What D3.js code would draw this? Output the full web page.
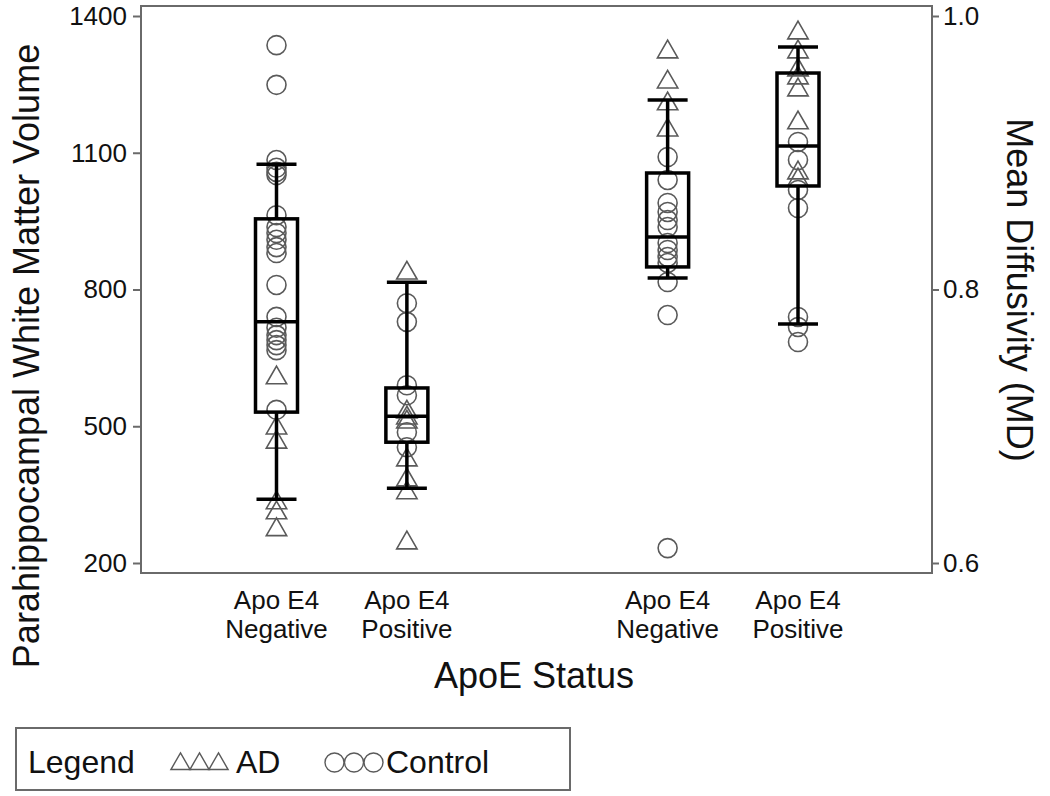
<!DOCTYPE html>
<html>
<head>
<meta charset="utf-8">
<script src="https://cdn.jsdelivr.net/npm/d3@7"></script>
<style>
  body { margin: 0; background: #fff; }
  text { font-family: "Liberation Sans", Arial, sans-serif; fill: #111; }
</style>
</head>
<body>
<script>
'use strict';

// group labels and positions on the x axis (gap between the two measures)
const groupTop = ['Apo E4', 'Apo E4', 'Apo E4', 'Apo E4'];
const groupBottom = ['Negative', 'Positive', 'Negative', 'Positive'];
const groupPos = [1, 2, 4, 5];
const groupAxis = ['left', 'left', 'right', 'right'];

// box statistics per group (left two = volume, right two = MD)
const whiskerLow = [340, 364, 0.8084, 0.7748];
const q1 = [531, 465, 0.8165, 0.8757];
const median = [729, 522, 0.8384, 0.9049];
const q3 = [955, 584, 0.8852, 0.9583];
const whiskerHigh = [1075, 816, 0.9386, 0.9773];

// individual subjects
const volNegAD = [606, 496, 465, 332, 310, 273];
const volNegControl = [1336, 1249, 1084, 1067, 1058, 1051, 963, 937, 924, 909, 893, 880,
  810, 740, 716, 700, 689, 678, 667, 536];
const volPosAD = [836, 531, 518, 509, 426, 382, 354, 244];
const volPosControl = [770, 729, 590, 568, 487, 454];
const mdNegAD = [0.9737, 0.9517, 0.9357, 0.9166];
const mdNegControl = [0.8969, 0.8801, 0.8633, 0.8567, 0.8508, 0.8457, 0.834, 0.8289,
  0.8238, 0.8194, 0.8055, 0.7813, 0.6109];
const mdPosAD = [0.9876, 0.9737, 0.9605, 0.9547, 0.9459, 0.9218, 0.8852, 0.8801];
const mdPosControl = [0.9079, 0.8947, 0.8728, 0.8596, 0.7799, 0.7726, 0.7616];

// tick values
const leftTicks = [200, 500, 800, 1100, 1400];
const rightTicks = [0.6, 0.8, 1.0];

(function() {

  const svg = d3.select('body')
    .append('svg')
    .attr('width', 1050)
    .attr('height', 796);

  // frame of the plot area
  const frame = { left: 141, right: 932, top: 6, bottom: 573 };

  // scales
  const x = d3.scaleLinear().domain([1, 5]).range([276.5, 798]);
  const yLeft = d3.scaleLinear().domain([200, 1400]).range([563, 16]);
  const yRight = d3.scaleLinear().domain([0.6, 1.0]).range([563, 16]);
  const yFor = (i) => groupAxis[i] === 'left' ? yLeft : yRight;

  svg.append('rect')
    .attr('x', frame.left)
    .attr('y', frame.top)
    .attr('width', frame.right - frame.left)
    .attr('height', frame.bottom - frame.top)
    .attr('fill', 'none')
    .attr('stroke', '#6a6a6a')
    .attr('stroke-width', 2);

  // left axis
  const leftAxis = svg.append('g')
    .attr('transform', `translate(${frame.left}, 0)`)
    .call(d3.axisLeft(yLeft).tickValues(leftTicks).tickFormat(d3.format('d'))
      .tickSize(8).tickPadding(6));
  // right axis
  const rightAxis = svg.append('g')
    .attr('transform', `translate(${frame.right}, 0)`)
    .call(d3.axisRight(yRight).tickValues(rightTicks).tickFormat(d3.format('.1f'))
      .tickSize(7).tickPadding(4));

  [leftAxis, rightAxis].forEach(g => {
    g.select('.domain').remove();
    g.selectAll('.tick line').attr('stroke', '#6a6a6a').attr('stroke-width', 2);
    g.selectAll('.tick text')
      .style('font-size', '26px')
      .style('font-family', '"Liberation Sans", Arial, sans-serif')
      .attr('fill', '#111');
  });

  // points: triangles for AD, circles for controls
  const pointSets = [
    { i: 0, vals: volNegControl, shape: 'circle' },
    { i: 0, vals: volNegAD, shape: 'triangle' },
    { i: 1, vals: volPosControl, shape: 'circle' },
    { i: 1, vals: volPosAD, shape: 'triangle' },
    { i: 2, vals: mdNegControl, shape: 'circle' },
    { i: 2, vals: mdNegAD, shape: 'triangle' },
    { i: 3, vals: mdPosControl, shape: 'circle' },
    { i: 3, vals: mdPosAD, shape: 'triangle' }
  ];

  const tri = d3.symbol(d3.symbolTriangle, 180);
  const pts = svg.append('g')
    .attr('fill', 'none')
    .attr('stroke', '#5a5a5a')
    .attr('stroke-width', 1.6);

  pointSets.forEach(set => {
    const cx = x(groupPos[set.i]);
    const y = yFor(set.i);
    if (set.shape === 'circle') {
      pts.selectAll(null)
        .data(set.vals)
        .enter()
        .append('circle')
        .attr('cx', cx)
        .attr('cy', d => y(d))
        .attr('r', 9.5);
    } else {
      pts.selectAll(null)
        .data(set.vals)
        .enter()
        .append('path')
        .attr('d', tri)
        .attr('transform', d => `translate(${cx}, ${y(d)})`);
    }
  });

  // box plots
  const halfBox = 21;
  const halfCap = 20;
  groupPos.forEach((p, i) => {
    const cx = x(p);
    const y = yFor(i);
    const g = svg.append('g')
      .attr('stroke', '#000')
      .attr('stroke-width', 3.5)
      .attr('fill', 'none');
    // whiskers
    g.append('line')
      .attr('x1', cx).attr('x2', cx)
      .attr('y1', y(whiskerHigh[i])).attr('y2', y(q3[i]));
    g.append('line')
      .attr('x1', cx).attr('x2', cx)
      .attr('y1', y(q1[i])).attr('y2', y(whiskerLow[i]));
    // caps
    [whiskerHigh[i], whiskerLow[i]].forEach(v => {
      g.append('line')
        .attr('x1', cx - halfCap).attr('x2', cx + halfCap)
        .attr('y1', y(v)).attr('y2', y(v));
    });
    // box and median
    g.append('rect')
      .attr('x', cx - halfBox)
      .attr('y', y(q3[i]))
      .attr('width', halfBox * 2)
      .attr('height', y(q1[i]) - y(q3[i]));
    g.append('line')
      .attr('x1', cx - halfBox).attr('x2', cx + halfBox)
      .attr('y1', y(median[i])).attr('y2', y(median[i]));
  });

  // category labels
  groupPos.forEach((p, i) => {
    const t = svg.append('text')
      .attr('x', x(p))
      .attr('text-anchor', 'middle')
      .style('font-size', '26px');
    t.append('tspan').attr('x', x(p)).attr('y', 609).text(groupTop[i]);
    t.append('tspan').attr('x', x(p)).attr('y', 638).text(groupBottom[i]);
  });

  // axis titles
  svg.append('text')
    .attr('x', 534)
    .attr('y', 688)
    .attr('text-anchor', 'middle')
    .style('font-size', '36px')
    .text('ApoE Status');

  svg.append('text')
    .attr('transform', 'translate(39, 356)rotate(-90)')
    .attr('text-anchor', 'middle')
    .style('font-size', '36px')
    .text('Parahippocampal White Matter Volume');

  svg.append('text')
    .attr('transform', 'translate(1007, 290)rotate(90)')
    .attr('text-anchor', 'middle')
    .style('font-size', '36px')
    .text('Mean Diffusivity (MD)');

  // legend
  const legend = svg.append('g');
  legend.append('rect')
    .attr('x', 16).attr('y', 728)
    .attr('width', 554).attr('height', 62)
    .attr('fill', 'none')
    .attr('stroke', '#6a6a6a')
    .attr('stroke-width', 2);
  legend.append('text')
    .attr('x', 28).attr('y', 773)
    .style('font-size', '32px')
    .text('Legend');

  const smallTri = d3.symbol(d3.symbolTriangle, 160);
  [180.5, 199.5, 218.5].forEach(lx => {
    legend.append('path')
      .attr('d', smallTri)
      .attr('transform', `translate(${lx}, 764)`)
      .attr('fill', 'none')
      .attr('stroke', '#5a5a5a')
      .attr('stroke-width', 1.4);
  });
  legend.append('text')
    .attr('x', 236).attr('y', 773)
    .style('font-size', '32px')
    .text('AD');

  [334.5, 354, 373.5].forEach(lx => {
    legend.append('circle')
      .attr('cx', lx).attr('cy', 762.5)
      .attr('r', 9.5)
      .attr('fill', 'none')
      .attr('stroke', '#5a5a5a')
      .attr('stroke-width', 1.4);
  });
  legend.append('text')
    .attr('x', 386).attr('y', 773)
    .style('font-size', '32px')
    .text('Control');

})();
</script>
</body>
</html>
